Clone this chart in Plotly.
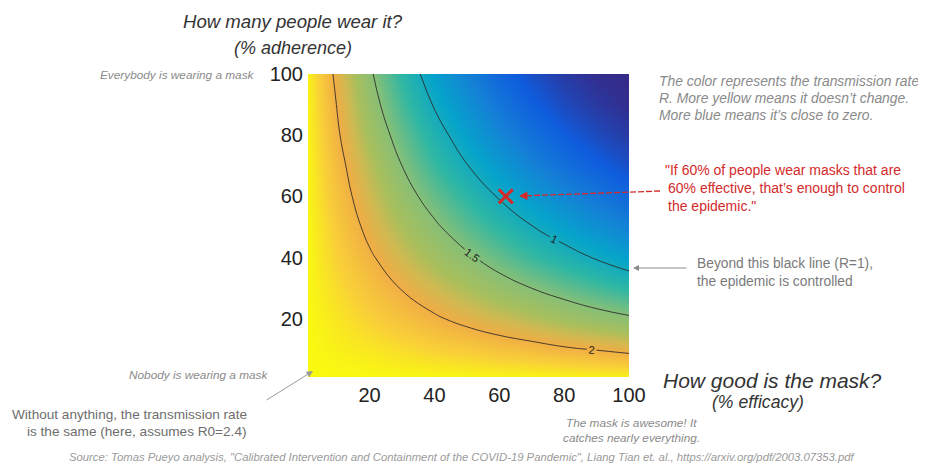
import plotly.graph_objects as go

# ---- data ----
efficacy = [0, 10, 20, 30, 40, 50, 60, 70, 80, 90, 100]      # % efficacy (x)
adherence = [0, 10, 20, 30, 40, 50, 60, 70, 80, 90, 100]     # % adherence (y)
# transmission rate R, rows = adherence, cols = efficacy
R = [
    [2.40, 2.40, 2.40, 2.40, 2.40, 2.40, 2.40, 2.40, 2.40, 2.40, 2.40],
    [2.40, 2.35, 2.31, 2.26, 2.21, 2.17, 2.12, 2.08, 2.03, 1.99, 1.94],
    [2.40, 2.31, 2.21, 2.12, 2.03, 1.94, 1.86, 1.78, 1.69, 1.61, 1.54],
    [2.40, 2.26, 2.12, 1.99, 1.86, 1.73, 1.61, 1.50, 1.39, 1.28, 1.18],
    [2.40, 2.21, 2.03, 1.86, 1.69, 1.54, 1.39, 1.24, 1.11, 0.98, 0.86],
    [2.40, 2.17, 1.94, 1.73, 1.54, 1.35, 1.18, 1.01, 0.86, 0.73, 0.60],
    [2.40, 2.12, 1.86, 1.61, 1.39, 1.18, 0.98, 0.81, 0.65, 0.51, 0.38],
    [2.40, 2.08, 1.78, 1.50, 1.24, 1.01, 0.81, 0.62, 0.46, 0.33, 0.22],
    [2.40, 2.03, 1.69, 1.39, 1.11, 0.86, 0.65, 0.46, 0.31, 0.19, 0.10],
    [2.40, 1.99, 1.61, 1.28, 0.98, 0.73, 0.51, 0.33, 0.19, 0.09, 0.02],
    [2.40, 1.94, 1.54, 1.18, 0.86, 0.60, 0.38, 0.22, 0.10, 0.02, 0.00],
]
contour_levels = [1, 1.5, 2]
marker_point = {"efficacy": [62], "adherence": [60]}
tick_values = [20, 40, 60, 80, 100]

# ---- styling ----
FONT = "Liberation Sans, Arial, Helvetica, sans-serif"
PAGE_W, PAGE_H = 926, 467
OFF = 8                              # body margin of the html page
W, H = PAGE_W - OFF, PAGE_H - OFF
L, Rt, T, B = 308, 629, 74, 377      # plot area in page pixels

def px(x, y):
    return (x - L) / (Rt - L), (B - y) / (B - T)

parula = [
    [0.000, "#352a87"], [0.125, "#0f5cdd"], [0.250, "#1481d6"],
    [0.375, "#06a4ca"], [0.500, "#2eb7a4"], [0.625, "#87bf77"],
    [0.720, "#a8bf5c"], [0.780, "#d4b850"], [0.830, "#f0ad45"],
    [0.920, "#f9d038"], [1.000, "#f9fb0e"],
]

fig = go.Figure()
fig.add_trace(go.Contour(
    x=efficacy, y=adherence, z=R,
    colorscale=parula, zmin=0, zmax=2.4, showscale=False,
    contours=dict(start=contour_levels[0], end=contour_levels[-1], size=0.5,
                  coloring="heatmap", showlabels=True,
                  labelfont=dict(size=11, color="#222", family=FONT)),
    line=dict(color="rgba(40,40,40,0.85)", width=1, smoothing=1.3),
    hoverinfo="skip",
))
fig.add_trace(go.Scatter(
    x=marker_point["efficacy"], y=marker_point["adherence"], mode="markers",
    marker=dict(symbol="x-thin", size=14, line=dict(width=3, color="#d42a2a")),
    hoverinfo="skip", showlegend=False,
))

ann = []

def text(x, y, s, size, color, italic=False, xanchor="center"):
    X, Y = px(x, y)
    ann.append(dict(xref="paper", yref="paper", x=X, y=Y, text=s, showarrow=False,
                    xanchor=xanchor, yanchor="middle",
                    font=dict(family=FONT, size=size, color=color,
                              style="italic" if italic else "normal")))

GRAY_I = "#8a8a8a"
RED = "#d42a2a"

text(293, 22, "How many people wear it?", 18.6, "#333", italic=True)
text(293, 48, "(% adherence)", 18, "#333", italic=True)
text(257, 75, "Everybody is wearing a mask", 11.8, GRAY_I, italic=True, xanchor="right")
text(270, 375, "Nobody is wearing a mask", 11.8, GRAY_I, italic=True, xanchor="right")
text(249, 414, "Without anything, the transmission rate", 13.6, "#6e6e6e", xanchor="right")
text(249, 431, "is the same (here, assumes R0=2.4)", 13.6, "#6e6e6e", xanchor="right")
text(631, 423, "The mask is awesome! It", 11.8, GRAY_I, italic=True)
text(631, 438, "catches nearly everything.", 11.8, GRAY_I, italic=True)
text(772, 380, "How good is the mask?", 21, "#333", italic=True)
text(758, 402, "(% efficacy)", 17.6, "#333", italic=True)
text(657, 81, "The color represents the transmission rate", 13.9, GRAY_I, italic=True, xanchor="left")
text(657, 98, "R. More yellow means it doesn’t change.", 13.9, GRAY_I, italic=True, xanchor="left")
text(657, 115, "More blue means it’s close to zero.", 13.9, GRAY_I, italic=True, xanchor="left")
text(663, 170, "\"If 60% of people wear masks that are", 14, RED, xanchor="left")
text(666, 188, "60% effective, that’s enough to control", 14, RED, xanchor="left")
text(666, 206, "the epidemic.\"", 14, RED, xanchor="left")
text(695, 263, "Beyond this black line (R=1),", 13.8, "#7a7a7a", xanchor="left")
text(695, 281, "the epidemic is controlled", 13.8, "#7a7a7a", xanchor="left")
text(462, 457, "Source: Tomas Pueyo analysis, \"Calibrated Intervention and Containment of the COVID-19 Pandemic\", Liang Tian et. al., https://arxiv.org/pdf/2003.07353.pdf",
     11.3, "#9a9a9a", italic=True)

def arrow(hx, hy, tx, ty, color, width=1.0, head=2, size=1.2):
    X, Y = px(hx, hy)
    ann.append(dict(xref="paper", yref="paper", x=X, y=Y, ax=tx - hx, ay=ty - hy,
                    text="", showarrow=True, arrowhead=head, arrowsize=size,
                    arrowwidth=width, arrowcolor=color))

# red arrow: dashed shaft + head
arrow(519, 196, 533, 195.5, RED, width=1.3, head=2, size=1.3)
# gray arrows
arrow(633, 268, 688, 268, "#8a8a8a", width=1.0, head=2, size=1.2)
arrow(313, 371, 265, 401, "#9a9a9a", width=1.0, head=2, size=1.3)

shapes = []
x0, y0 = px(660, 191)
x1, y1 = px(530, 195.6)
shapes.append(dict(type="line", xref="paper", yref="paper", x0=x0, y0=y0, x1=x1, y1=y1,
                   line=dict(color=RED, width=1.3, dash="6px,2px")))

fig.update_layout(
    width=W, height=H,
    margin=dict(l=L - OFF, r=W - (Rt - OFF), t=T - OFF, b=H - (B - OFF), pad=0),
    paper_bgcolor="white", plot_bgcolor="white",
    font=dict(family=FONT),
    annotations=ann, shapes=shapes, showlegend=False,
    xaxis=dict(range=[1, 100], tickvals=tick_values, showgrid=False, zeroline=False,
               showline=False, ticks="", tickfont=dict(size=20, color="#222", family=FONT),
               ticklabelstandoff=4),
    yaxis=dict(range=[1, 100], tickvals=tick_values, showgrid=False, zeroline=False,
               showline=False, ticks="", tickfont=dict(size=20, color="#222", family=FONT),
               ticklabelstandoff=4),
)

fig.write_html("out.html")
